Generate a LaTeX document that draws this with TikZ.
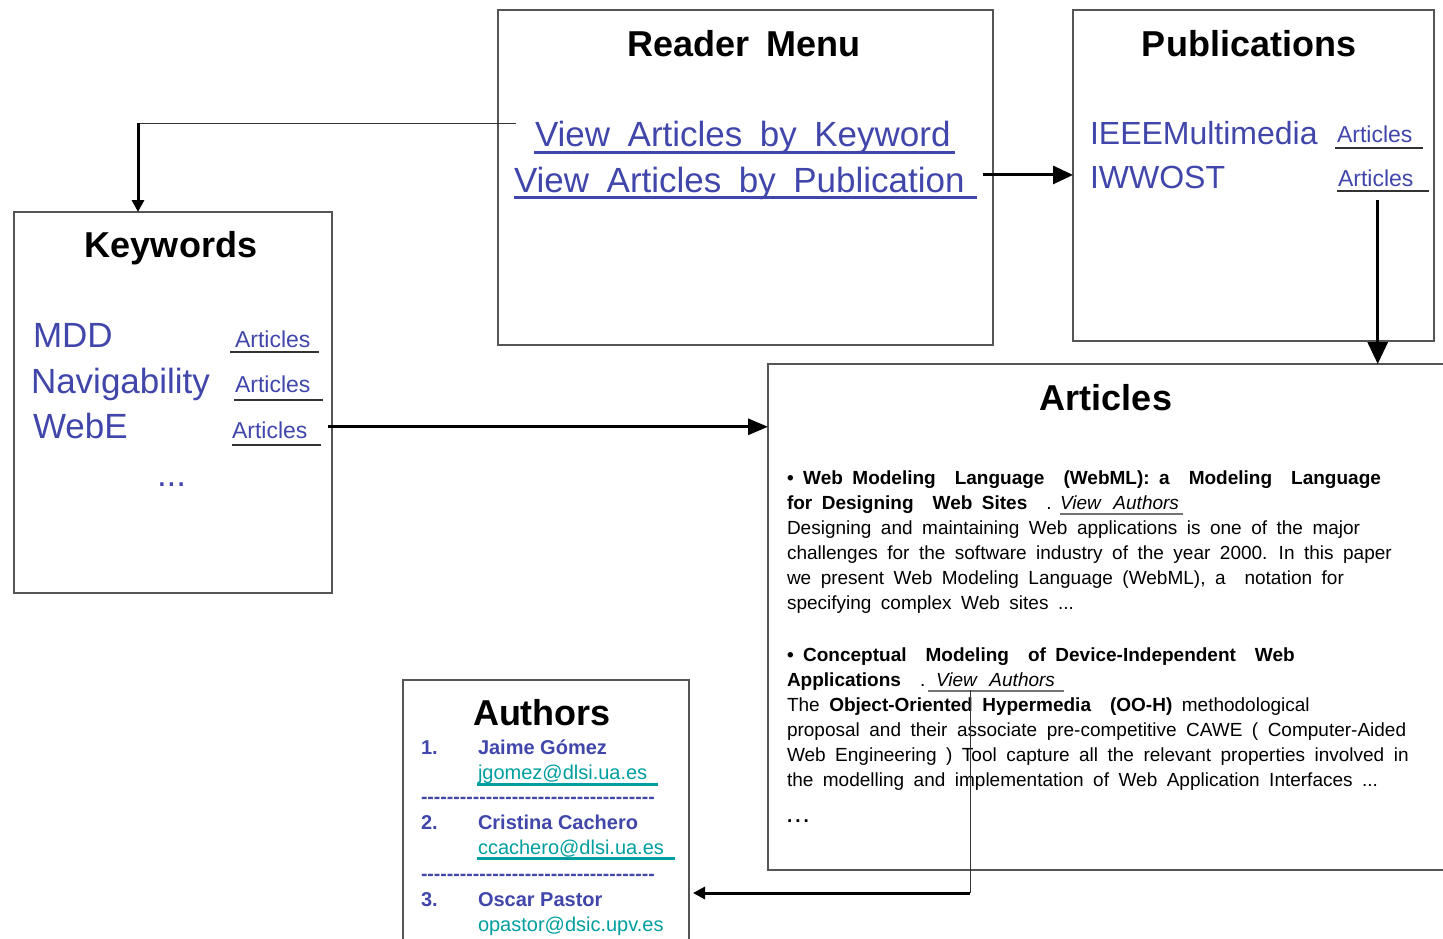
\documentclass[tikz,border=0pt]{standalone}
\usepackage{fontspec}
\setmainfont{Liberation Sans}
\newfontfamily\bodyfont{Liberation Sans}[WordSpace=1.8]
\usetikzlibrary{arrows.meta,calc}
\definecolor{linkblue}{RGB}{64,70,170}
\definecolor{mailteal}{RGB}{0,158,158}
\definecolor{framegray}{RGB}{85,85,85}
\definecolor{ulgray}{RGB}{115,115,115}
\newcommand{\wsp}{\hspace{0.5em}}
% a row of separate hyphens (no -- ligatures)
\newcount\hycnt
\newcommand{\hyrow}{\hycnt=0 \loop\ifnum\hycnt<36 -\kern0pt\advance\hycnt by 1 \repeat}

\begin{document}
\begin{tikzpicture}[x=1pt,y=-1pt,
  panel/.style={draw=framegray,line width=1.1pt,anchor=north west,inner sep=0pt,outer sep=0pt,rectangle},
  lbl/.style={anchor=base west,inner sep=0pt,outer sep=0pt},
  heading/.style={anchor=base,inner sep=0pt,outer sep=0pt,font=\fontsize{36}{40}\selectfont\bfseries},
  bigblue/.style={lbl,text=linkblue,font=\fontsize{35}{40}\selectfont},
  pubblue/.style={lbl,text=linkblue,font=\fontsize{32}{36}\selectfont},
  artlink/.style={lbl,text=linkblue,font=\fontsize{23}{26}\selectfont},
  body/.style={lbl,font=\bodyfont\fontsize{19}{25}\selectfont},
  auth/.style={lbl,text=linkblue,font=\fontsize{20}{24}\selectfont\bfseries},
  mail/.style={lbl,text=mailteal,font=\fontsize{20}{24}\selectfont},
  sepline/.style={lbl,text=linkblue,font=\fontsize{19.5}{24}\selectfont\bfseries},
  conn/.style={line width=3pt,draw=black},
  fine/.style={line width=1pt,draw=black!80},
  bluebar/.style={draw=linkblue,line width=3pt},
  darkbar/.style={draw=black!80,line width=1.5pt},
  graybar/.style={draw=ulgray,line width=1.5pt},
  tealbar/.style={draw=mailteal,line width=3pt},
]
\useasboundingbox (0,0) rectangle (1443,938);

% panels
\node[panel,minimum width=495pt,minimum height=335pt] (menu) at (498,10) {};
\node[panel,minimum width=361pt,minimum height=331pt] (pubs) at (1073,10) {};
\node[panel,minimum width=318pt,minimum height=381pt] (keys) at (14,212) {};
\node[panel,minimum width=700pt,minimum height=506pt] (arts) at (768,364) {};
\node[panel,minimum width=286pt,minimum height=290pt] (auths) at (403,680) {};

% headings
\node[heading] (menuT) at (744,56) {Reader\hspace{0.45em}Menu};
\node[heading] (pubsT) at (1249,56) {Publications};
\node[heading] (keysT) at (171,257) {Keywords};
\node[heading] (artsT) at (1106,410) {Articles};
\node[heading] (authT) at (542,725) {Authors};

% reader menu links
\node[bigblue] (vkw) at (535,146) {View\wsp Articles\wsp by\wsp Keyword};
\node[bigblue] (vpub) at (514,192) {View\wsp Articles\wsp by\wsp Publication};
\draw[bluebar] ($(vkw.base west)+(-1,6)$) -- ($(vkw.base east)+(4,6)$);
\draw[bluebar] ($(vpub.base west)+(0,5)$) -- ($(vpub.base east)+(12,5)$);

% publications
\node[pubblue] (ieee) at (1090,144) {IEEEMultimedia};
\node[pubblue] (iwwost) at (1090,188) {IWWOST};
\node[artlink] (part1) at (1337,142) {Articles};
\node[artlink] (part2) at (1338,186) {Articles};
\draw[darkbar] ($(part1.base west)+(-2,6)$) -- ($(part1.base east)+(11,6)$);
\draw[darkbar] ($(part2.base west)+(-1,5)$) -- ($(part2.base east)+(16,5)$);

% keywords
\node[bigblue] (mdd) at (33,347) {MDD};
\node[bigblue] (nav) at (31,393) {Navigability};
\node[bigblue] (webe) at (33,438) {WebE};
\node[bigblue] (kdots) at (157,486) {...};
\node[artlink] (kart1) at (235,347) {Articles};
\node[artlink] (kart2) at (235,392) {Articles};
\node[artlink] (kart3) at (232,438) {Articles};
\draw[darkbar] ($(kart1.base west)+(-5,5)$) -- ($(kart1.base east)+(9,5)$);
\draw[darkbar] ($(kart2.base west)+(-1,8)$) -- ($(kart2.base east)+(13,8)$);
\draw[darkbar] ($(kart3.base west)+(0,7)$) -- ($(kart3.base east)+(14,7)$);

% articles
\node[body] (a1) at (787,484) {\textbf{• Web Modeling~ Language~ (WebML):~a~ Modeling~ Language}};
\node[body] (a2) at (787,509) {\textbf{for Designing~ Web Sites}~ .};
\node[body] (va1) at (1060,509) {\itshape View\, Authors};
\draw[graybar] ($(va1.base west)+(0,5)$) -- ($(va1.base east)+(4,5)$);
\node[body] (a3) at (787,534) {Designing and maintaining Web applications is one of the major};
\node[body] (a4) at (787,559) {challenges for the software industry of the year 2000. In this paper};
\node[body] (a5) at (787,584) {we present Web Modeling Language (WebML), a~ notation for};
\node[body] (a6) at (787,609) {specifying complex Web sites ...};
\node[body] (b1) at (787,661) {\textbf{• Conceptual~ Modeling~ of Device-Independent~ Web}};
\node[body] (b2) at (787,686) {\textbf{Applications}~ .};
\node[body] (va2) at (936,686) {\itshape View\, Authors};
\draw[graybar] ($(va2.base west)+(-8,5)$) -- ($(va2.base east)+(9,5)$);
\node[body] (b3) at (787,711) {The \textbf{Object-Oriented Hypermedia~ (OO-H)} methodological};
\node[body] (b4) at (787,736) {proposal and their associate pre-competitive CAWE ( Computer-Aided};
\node[body] (b5) at (787,761) {Web Engineering ) Tool capture all the relevant properties involved in};
\node[body] (b6) at (787,786) {the modelling and implementation of Web Application Interfaces ...};
\node[body] (adots) at (787,822) {\textbf{.\hspace{3pt}.\hspace{3pt}.}};

% authors
\node[auth] (n1) at (421,754) {1.};
\node[auth] (jg) at (478,754) {Jaime Gómez};
\node[mail] (jgm) at (478,779) {jgomez@dlsi.ua.es};
\draw[tealbar] ($(jgm.base west)+(-1,5)$) -- ($(jgm.base east)+(11,5)$);
\node[sepline] (sep1) at (421,803) {\hyrow};
\node[auth] (n2) at (421,829) {2.};
\node[auth] (cc) at (478,829) {Cristina Cachero};
\node[mail] (ccm) at (478,854) {ccachero@dlsi.ua.es};
\draw[tealbar] ($(ccm.base west)+(-1,4)$) -- ($(ccm.base east)+(11,4)$);
\node[sepline] (sep2) at (421,880) {\hyrow};
\node[auth] (n3) at (421,906) {3.};
\node[auth] (op) at (478,906) {Oscar Pastor};
\node[mail] (opm) at (478,931) {opastor@dsic.upv.es};

% connectors
\coordinate (kbend) at (138,123);
\draw[fine] ($(vkw.west |- kbend)+(-19,0)$) -- (kbend);
\draw[conn,-{Triangle[length=12pt,width=12pt]}] (kbend) -- (kbend |- keys.north);

\coordinate (p0) at ($(vpub.east)+(18,-8)$);
\draw[conn,-{Triangle[length=20pt,width=18pt]}] (p0) -- (p0 -| pubs.west);

\coordinate (p1) at ($(part2.south)+(2,14)$);
\draw[conn,-{Triangle[length=22pt,width=20pt]}] (p1) -- (p1 |- arts.north);

\coordinate (p2) at ($(kart3.east)+(21,-3)$);
\draw[conn,-{Triangle[length=20pt,width=16pt]}] (p2) -- (p2 -| arts.west);

\coordinate (abend) at (970,893);
\draw[fine] ($(va2.south -| abend)+(0,4)$) -- (abend);
\draw[conn,-{Triangle[length=12pt,width=12pt]}] (abend) -- ($(abend -| auths.east)+(4,0)$);
\end{tikzpicture}
\end{document}
